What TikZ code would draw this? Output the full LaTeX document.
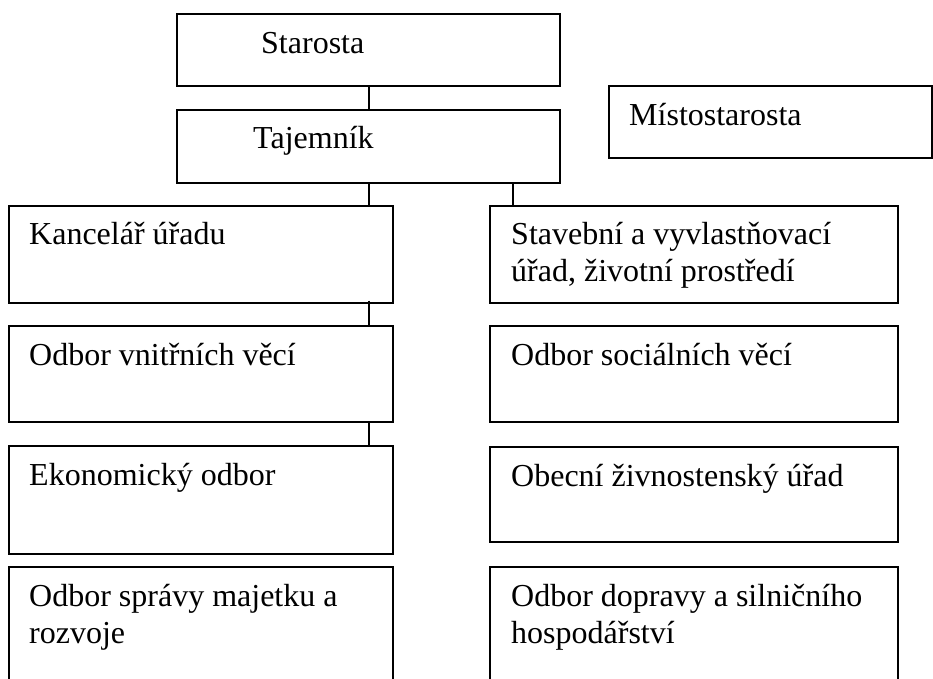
\documentclass[tikz,border=0pt]{standalone}
\usepackage{fontspec}
\setmainfont{Liberation Serif}
\usetikzlibrary{positioning,calc}

\begin{document}
\begin{tikzpicture}[x=1pt, y=1pt,
    box/.style={draw, line width=1.7pt, anchor=north west, inner sep=0pt},
    lbl/.style={anchor=base west, inner sep=0pt, align=flush left, text width=370pt,
      font=\fontsize{32}{37}\selectfont},
    conn/.style={line width=1.7pt}
  ]
  \useasboundingbox (0,0) rectangle (933,678);

  % top of the office
  \node[box, minimum width=383pt, minimum height=72pt] (star) at (176,665) {};
  \node[box, minimum width=383pt, minimum height=73pt] (taj) at (176,569) {};
  \node[box, minimum width=323pt, minimum height=72pt] (mist) at (608,593) {};

  % left column
  \node[box, minimum width=384pt, minimum height=97pt] (kanc) at (8,473) {};
  \node[box, minimum width=384pt, minimum height=96pt] (vnit) at (8,353) {};
  \node[box, minimum width=384pt, minimum height=108pt] (eko) at (8,233) {};
  \node[box, minimum width=384pt, minimum height=130pt] (sprav) at (8,112) {};

  % right column
  \node[box, minimum width=408pt, minimum height=97pt] (stav) at (489,473) {};
  \node[box, minimum width=408pt, minimum height=96pt] (soc) at (489,353) {};
  \node[box, minimum width=408pt, minimum height=95pt] (obec) at (489,232) {};
  \node[box, minimum width=408pt, minimum height=130pt] (dopr) at (489,112) {};

  % texts
  \node[lbl] (star-t) at ($(star.north west)+(85,-41)$) {Starosta};
  \node[lbl] (taj-t) at ($(taj.north west)+(77,-40)$) {Tajemník};
  \node[lbl, text width=300pt] (mist-t) at ($(mist.north west)+(21,-41)$) {Místostarosta};
  \node[lbl] (kanc-t) at ($(kanc.north west)+(21,-40)$) {Kancelář úřadu};
  \node[lbl] (vnit-t) at ($(vnit.north west)+(21,-40)$) {Odbor vnitřních věcí};
  \node[lbl] (eko-t) at ($(eko.north west)+(21,-40)$) {Ekonomický odbor};
  \node[lbl] (sprav-t) at ($(sprav.north west)+(21,-40)$) {Odbor správy majetku a\\rozvoje};
  \node[lbl] (stav-t) at ($(stav.north west)+(22,-40)$) {Stavební a vyvlastňovací\\úřad, životní prostředí};
  \node[lbl] (soc-t) at ($(soc.north west)+(22,-40)$) {Odbor sociálních věcí};
  \node[lbl] (obec-t) at ($(obec.north west)+(22,-40)$) {Obecní živnostenský úřad};
  \node[lbl] (dopr-t) at ($(dopr.north west)+(22,-40)$) {Odbor dopravy a silničního\\hospodářství};

  % lines
  \coordinate (trunk) at (369,0);
  \coordinate (branch) at (513,0);
  \draw[conn] (star.south -| trunk) -- (taj.north -| trunk);
  \draw[conn] (taj.south -| trunk) -- (kanc.north -| trunk);
  \draw[conn] (taj.south -| branch) -- (stav.north -| branch);
  \draw[conn] ($(kanc.south -| trunk)+(0,3)$) -- (vnit.north -| trunk);
  \draw[conn] (vnit.south -| trunk) -- (eko.north -| trunk);
\end{tikzpicture}
\end{document}
